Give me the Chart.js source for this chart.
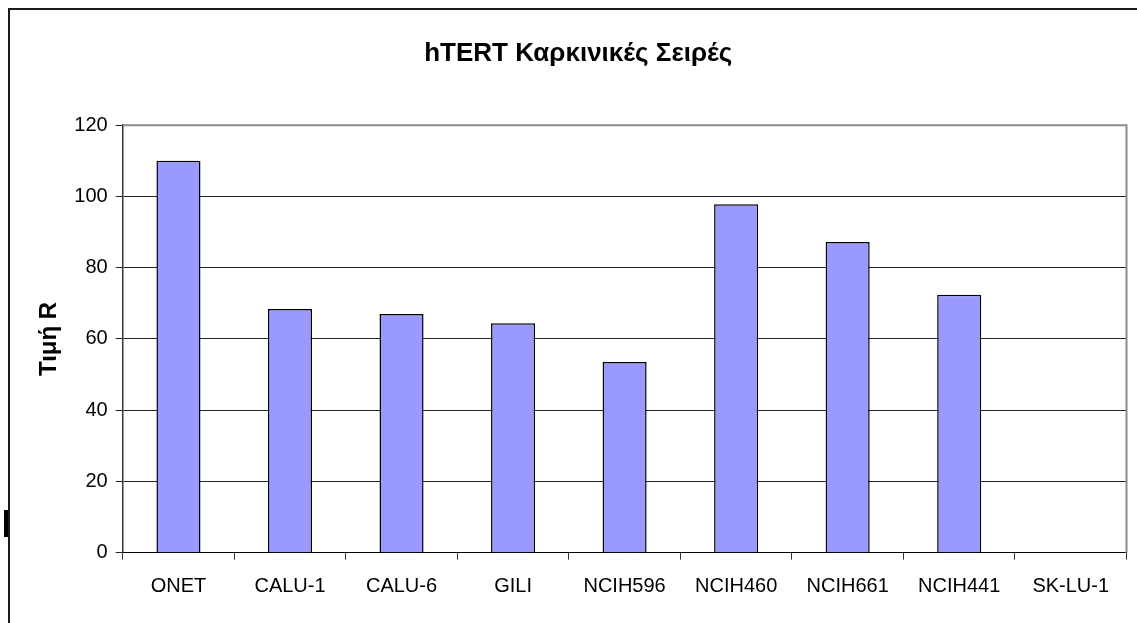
<!DOCTYPE html>
<html>
<head>
<meta charset="utf-8">
<script src="https://cdn.jsdelivr.net/npm/chart.js@4"></script>
<style>
html,body{margin:0;padding:0;background:#fff;}
#wrap{position:relative;width:1137px;height:623px;}
</style>
</head>
<body>
<div id="wrap"><canvas id="c" width="1137" height="623"></canvas></div>
<script>
const categories = ["ONET","CALU-1","CALU-6","GILI","NCIH596","NCIH460","NCIH661","NCIH441","SK-LU-1"];
const rValues = [110, 68.4, 67, 64.4, 53.5, 97.8, 87.2, 72.4, 0];
const yTicks = [0, 20, 40, 60, 80, 100, 120];
const chartTitle = "hTERT Καρκινικές Σειρές";
const yTitle = "Τιμή R";

const framePlugin = {
  id: 'frame',
  beforeDraw(chart) {
    const ctx = chart.ctx;
    ctx.save();
    ctx.fillStyle = '#fff';
    ctx.fillRect(0, 0, chart.width, chart.height);
    ctx.restore();
  },
  afterDraw(chart) {
    const ctx = chart.ctx;
    const a = chart.chartArea;
    ctx.save();
    ctx.strokeStyle = '#1a1a1a';
    ctx.lineWidth = 2;
    ctx.beginPath();
    ctx.moveTo(9, chart.height + 5);
    ctx.lineTo(9, 9);
    ctx.lineTo(chart.width + 5, 9);
    ctx.stroke();
    ctx.fillStyle = '#000';
    ctx.fillRect(4, 510, 4, 27);
    ctx.strokeStyle = '#8c8c8c';
    ctx.lineWidth = 2;
    ctx.beginPath();
    ctx.moveTo(a.left, a.top);
    ctx.lineTo(a.right, a.top);
    ctx.lineTo(a.right, a.bottom);
    ctx.stroke();
    ctx.restore();
  }
};

new Chart(document.getElementById('c'), {
  type: 'bar',
  data: {
    labels: categories,
    datasets: [{
      data: rValues,
      backgroundColor: '#9999FF',
      borderColor: '#000000',
      borderWidth: 1.5,
      barPercentage: 0.395,
      categoryPercentage: 1.0
    }]
  },
  options: {
    responsive: false,
    animation: false,
    layout: { padding: { left: 30, right: 10.5, top: 0, bottom: 0 } },
    plugins: {
      legend: { display: false },
      tooltip: { enabled: false },
      title: {
        display: true,
        text: chartTitle,
        color: '#000',
        font: { family: 'Liberation Sans, Arial, sans-serif', size: 26, weight: 'bold', lineHeight: 1.2 },
        padding: { top: 38, bottom: 56 }
      }
    },
    scales: {
      x: {
        grid: { display: true, drawOnChartArea: false, drawTicks: true, tickLength: 7, color: '#333', offset: true },
        border: { display: true, color: '#000', width: 1 },
        ticks: {
          color: '#000',
          padding: 15,
          maxRotation: 0,
          autoSkip: false,
          font: { family: 'Liberation Sans, Arial, sans-serif', size: 20 }
        },
        afterFit(scale) { scale.height = 70.3; }
      },
      y: {
        min: 0,
        max: 120,
        afterBuildTicks(scale) { scale.ticks = yTicks.map(v => ({ value: v })); },
        grid: { color: '#222', lineWidth: 1, tickLength: 7 },
        border: { display: true, color: '#333', width: 1.5 },
        ticks: {
          color: '#000',
          padding: 8,
          font: { family: 'Liberation Sans, Arial, sans-serif', size: 20 }
        },
        title: {
          display: true,
          text: yTitle,
          color: '#000',
          font: { family: 'Liberation Sans, Arial, sans-serif', size: 24, weight: 'bold', lineHeight: 1.2 },
          padding: { top: 5, bottom: 0 }
        },
        afterFit(scale) { scale.width = 92.7; }
      }
    }
  },
  plugins: [framePlugin]
});
</script>
</body>
</html>
